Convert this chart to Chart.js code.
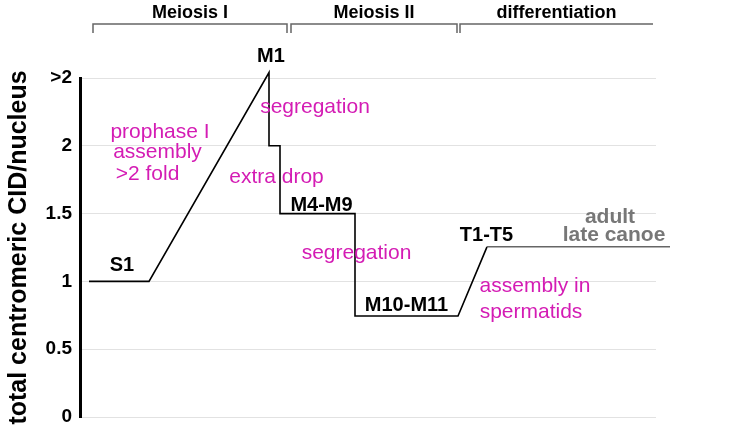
<!DOCTYPE html>
<html>
<head>
<meta charset="utf-8">
<script src="https://cdn.jsdelivr.net/npm/chart.js@4/dist/chart.umd.min.js"></script>
<style>
  html, body { margin: 0; padding: 0; background: #fff; }
  #wrap { width: 729px; height: 448px; position: relative; }
</style>
</head>
<body>
<div id="wrap"><canvas id="c" width="729" height="448"></canvas></div>
<script>
// ---- data (stage position along spermatogenesis in arbitrary units, CID level) ----
const stagePos  = [89, 149, 269, 269, 280, 280, 355, 355, 458, 487, 670];
const cidLevel  = [1, 1, 2.54, 2, 2, 1.5, 1.5, 0.745, 0.745, 1.255, 1.255];
const yTicks    = [0, 0.5, 1, 1.5, 2, 2.5];
const yTickText = ['0', '0.5', '1', '1.5', '2', '>2'];

// stage labels (bold black)
const stageNames = ['M1', 'S1', 'M4-M9', 'M10-M11', 'T1-T5'];
const stageNameX = [271, 122, 321.5, 406.5, 486.5];
const stageNameY = [2.655, 1.114, 1.563, 0.819, 1.342];

// process notes (magenta)
const noteTexts = ['prophase I', 'assembly', '>2 fold', 'segregation', 'extra drop', 'segregation', 'assembly in', 'spermatids'];
const noteX     = [160, 157.5, 147.5, 315, 276.5, 356.5, 535, 531];
const noteY     = [2.102, 1.954, 1.792, 2.286, 1.770, 1.209, 0.966, 0.774];

// adult reference notes (gray)
const adultTexts = ['adult', 'late canoe'];
const adultX     = [610, 614];
const adultY     = [1.475, 1.342];

// phase brackets
const phaseNames = ['Meiosis I', 'Meiosis II', 'differentiation'];
const phaseStart = [93, 291, 460];
const phaseEnd   = [287, 457, 653];
const phaseRightTick = [true, true, false];

const data = stagePos.map((x, i) => ({ x: x, y: cidLevel[i] }));

const annotations = {
  id: 'annotations',
  afterDatasetsDraw(chart) {
    const ctx = chart.ctx;
    const xs = chart.scales.x, ys = chart.scales.y;
    ctx.save();
    ctx.textAlign = 'center';
    ctx.textBaseline = 'middle';
    // stage names
    ctx.fillStyle = '#000';
    ctx.font = 'bold 20px "Liberation Sans", Arial, sans-serif';
    stageNames.forEach((t, i) => ctx.fillText(t, xs.getPixelForValue(stageNameX[i]), ys.getPixelForValue(stageNameY[i])));
    // notes
    ctx.fillStyle = '#d41cb4';
    ctx.font = '21px "Liberation Sans", Arial, sans-serif';
    noteTexts.forEach((t, i) => ctx.fillText(t, xs.getPixelForValue(noteX[i]), ys.getPixelForValue(noteY[i])));
    // adult
    ctx.fillStyle = '#777';
    ctx.font = 'bold 21px "Liberation Sans", Arial, sans-serif';
    adultTexts.forEach((t, i) => ctx.fillText(t, xs.getPixelForValue(adultX[i]), ys.getPixelForValue(adultY[i])));
    // phase brackets
    const yLine = ys.getPixelForValue(2.898);
    const yTick = ys.getPixelForValue(2.832);
    const yText = ys.getPixelForValue(2.979);
    ctx.strokeStyle = '#666';
    ctx.lineWidth = 1.5;
    ctx.fillStyle = '#000';
    ctx.font = 'bold 18px "Liberation Sans", Arial, sans-serif';
    phaseNames.forEach((t, i) => {
      const x0 = xs.getPixelForValue(phaseStart[i]);
      const x1 = xs.getPixelForValue(phaseEnd[i]);
      ctx.beginPath();
      ctx.moveTo(x0, yTick);
      ctx.lineTo(x0, yLine);
      ctx.lineTo(x1, yLine);
      if (phaseRightTick[i]) ctx.lineTo(x1, yTick);
      ctx.stroke();
      ctx.fillText(t, (x0 + x1) / 2, yText);
    });
    ctx.restore();
  }
};

new Chart(document.getElementById('c'), {
  type: 'line',
  data: {
    datasets: [{
      data: data,
      borderColor: '#000',
      borderWidth: 1.6,
      pointRadius: 0,
      fill: false,
      tension: 0,
      clip: false,
      segment: {
        borderColor: c => (c.p0DataIndex >= 9 ? '#666' : '#000')
      }
    }]
  },
  options: {
    responsive: false,
    animation: false,
    devicePixelRatio: 1,
    layout: { padding: { left: 0, right: 73, top: 78, bottom: 31 } },
    plugins: { legend: { display: false }, tooltip: { enabled: false } },
    scales: {
      x: { type: 'linear', min: 80, max: 656, display: false },
      y: {
        type: 'linear', min: 0, max: 2.5,
        afterFit: a => { a.width = 80; },
        afterBuildTicks: a => { a.ticks = yTicks.map(v => ({ value: v })); },
        ticks: {
          padding: 8,
          color: '#000',
          font: { family: '"Liberation Sans", Arial, sans-serif', size: 19, weight: 'bold' },
          callback: v => yTickText[yTicks.indexOf(v)]
        },
        grid: { color: '#e2e2e2', lineWidth: 1, drawTicks: false },
        border: { display: true, color: '#000', width: 3 },
        title: {
          display: true,
          text: 'total centromeric CID/nucleus',
          color: '#000',
          font: { family: '"Liberation Sans", Arial, sans-serif', size: 25, weight: 'bold' },
          padding: { top: 4, bottom: 0 }
        }
      }
    }
  },
  plugins: [annotations]
});
</script>
</body>
</html>
